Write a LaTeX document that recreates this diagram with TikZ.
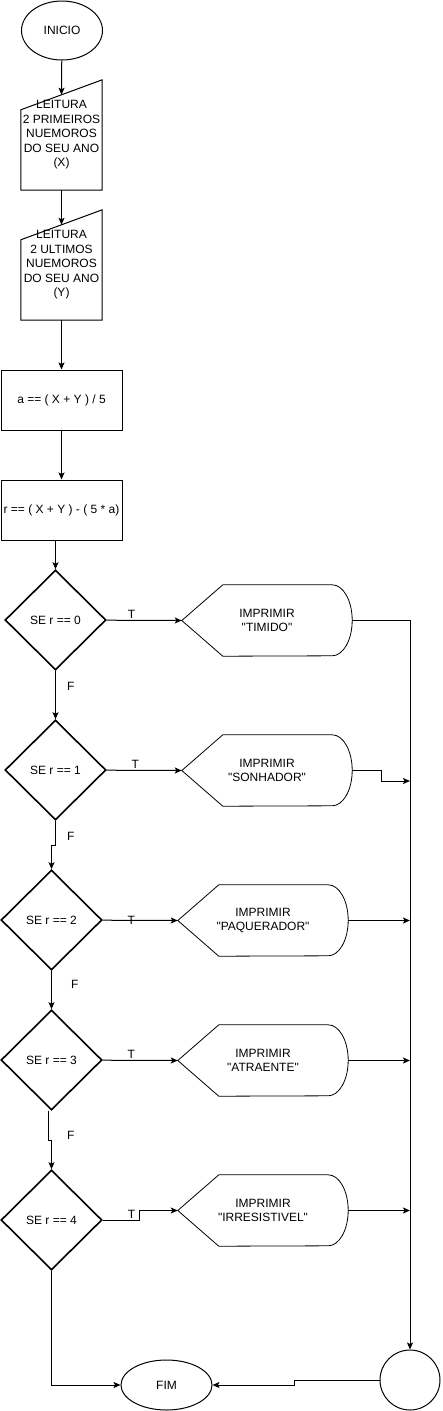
\documentclass[tikz,border=0pt]{standalone}
\usepackage{fontspec}
\setmainfont{Liberation Sans}
\usetikzlibrary{shapes.geometric,arrows.meta}
\tikzstyle{terminal}=[ellipse,draw,line width=1pt,inner sep=0pt]
\tikzstyle{leitura}=[rectangle,minimum width=81pt,minimum height=110pt,inner sep=0pt,align=center]
\tikzstyle{processo}=[rectangle,draw,line width=1pt,minimum width=121pt,minimum height=60pt,inner sep=0pt]
\tikzstyle{decisao}=[diamond,draw,line width=1.6pt,minimum width=101pt,minimum height=100pt,inner sep=0pt]
\tikzstyle{imprimir}=[rectangle,minimum width=170pt,minimum height=71pt,inner sep=0pt,align=center]
\tikzstyle{conector}=[circle,draw,line width=1pt,minimum size=60pt,inner sep=0pt]
\tikzstyle{seta}=[-{Stealth[length=7pt,width=6pt,inset=1.5pt]},line width=1pt]
\tikzstyle{rotulo}=[inner sep=1pt]
\newcommand{\aspas}[1]{\textquotedbl#1\textquotedbl}

\begin{document}
\begin{tikzpicture}[x=1pt,y=-1pt,font=\fontsize{12pt}{14.5pt}\selectfont]
\useasboundingbox (0,0) rectangle (442,1411);
\node[terminal,minimum width=81pt,minimum height=59pt] (inicio) at (62,30.5) {INICIO};
\node[leitura] (ler1) at (61.5,135) {LEITURA\\2 PRIMEIROS\\NUEMOROS\\DO SEU ANO\\(X)};
\node[leitura] (ler2) at (61.5,265) {LEITURA\\2 ULTIMOS\\NUEMOROS\\DO SEU ANO\\(Y)};
\node[processo] (calc1) at (61.5,400) {a == ( X + Y ) / 5};
\node[processo] (calc2) at (61.5,510) {r == ( X + Y ) - ( 5 * a)};
\node[decisao] (dec0) at (55.5,620) {SE r == 0};
\node[decisao] (dec1) at (55.5,770) {SE r == 1};
\node[decisao] (dec2) at (51.5,920) {SE r == 2};
\node[decisao] (dec3) at (51.5,1060) {SE r == 3};
\node[decisao] (dec4) at (51.5,1220) {SE r == 4};
\node[imprimir] (imp0) at (267,620.5) {IMPRIMIR\\\aspas{TIMIDO}};
\node[imprimir] (imp1) at (267,770.5) {IMPRIMIR\\\aspas{SONHADOR}};
\node[imprimir] (imp2) at (263,920.5) {IMPRIMIR\\\aspas{PAQUERADOR}};
\node[imprimir] (imp3) at (263,1060.5) {IMPRIMIR\\\aspas{ATRAENTE}};
\node[imprimir] (imp4) at (263,1210.5) {IMPRIMIR\\\aspas{IRRESISTIVEL}};
\node[conector] (conect) at (410,1380) {};
\node[terminal,minimum width=91pt,minimum height=50pt] (fim) at (166.5,1385) {FIM};
\coordinate (j1) at (410,781);
\coordinate (j2) at (410,920.5);
\coordinate (j3) at (410,1060.5);
\coordinate (j4) at (410,1210.5);
% contornos
\draw[line width=1pt] (ler1.south west) -- (ler1.south east) -- (ler1.north east) -- ([yshift=-30pt]ler1.north west) -- cycle;
\draw[line width=1pt] (ler2.south west) -- (ler2.south east) -- (ler2.north east) -- ([yshift=-30pt]ler2.north west) -- cycle;
\foreach \n in {imp0,imp1,imp2,imp3,imp4}
  \draw[line width=0.8pt] (\n.west) -- ([xshift=41pt]\n.north west) -- ([xshift=-20pt]\n.north east) arc[start angle=90,end angle=-90,x radius=20pt,y radius=35.5pt] -- ([xshift=41pt]\n.south west) -- cycle;
% setas
\draw[seta] (inicio) -- ([yshift=-15pt]ler1.north);
\draw[seta] (ler1.south) -- ([yshift=-15pt]ler2.north);
\draw[seta] (ler2) -- (calc1);
\draw[seta] (calc1) -- (calc2);
\draw[seta] (calc2.south -| dec0.north) -- (dec0.north);
\draw[seta] (dec0) -- node[rotulo,pos=.33,above]{T} (imp0.west);
\draw[seta] (dec1) -- node[rotulo,pos=.38,above]{T} (imp1.west);
\draw[seta] (dec2) -- node[rotulo,pos=.38]{T} (imp2.west);
\draw[seta] (dec3) -- node[rotulo,pos=.38,above]{T} (imp3.west);
\draw[seta] (dec4.east) -- node[rotulo,pos=.78,above]{T} ++(37,0) |- (imp4.west);
\draw[seta] (dec0) -- node[rotulo,pos=.32,right=10pt]{F} (dec1);
\draw[seta] (dec1.south) -- node[rotulo,pos=.64,right=10pt]{F} ++(0,25) -| (dec2.north);
\draw[seta] (dec2) -- node[rotulo,pos=.35,right=18pt]{F} (dec3);
\draw[seta] ([xshift=-3pt]dec3.south) -- node[rotulo,pos=.83,right=17pt]{F} ++(0,30) -| (dec4.north);
\draw[seta] (imp0.east) -| (conect.north);
\draw[seta] (imp1.east) -- ++(29,0) |- (j1);
\draw[seta] (imp2.east) -- (j2);
\draw[seta] (imp3.east) -- (j3);
\draw[seta] (imp4.east) -- (j4);
\draw[seta] (dec4.south) |- (fim.west);
\draw[seta] (conect.west) -- ++(-85,0) |- (fim.east);
\end{tikzpicture}
\end{document}
